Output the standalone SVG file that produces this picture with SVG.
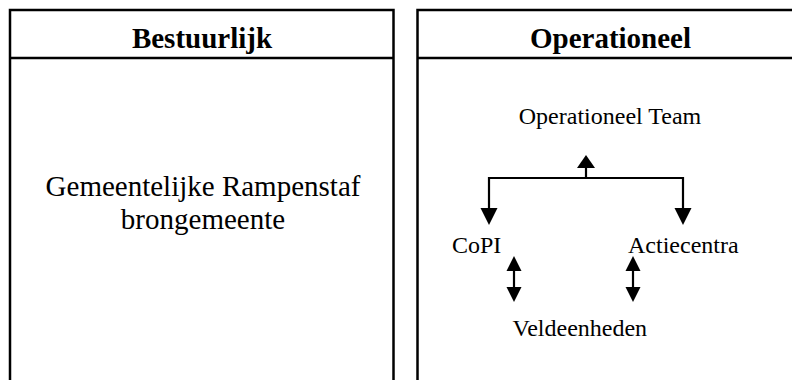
<svg xmlns="http://www.w3.org/2000/svg" width="792" height="380" viewBox="0 0 792 380">
<defs>
<style>
.box{fill:#fff;stroke:#000;stroke-width:2.5}
.div{stroke:#000;stroke-width:2.5}
.hd{font-family:"Liberation Serif",serif;font-weight:bold;font-size:29px;text-anchor:middle;fill:#000}
.big{font-family:"Liberation Serif",serif;font-size:29px;text-anchor:middle;fill:#000}
.lb{font-family:"Liberation Serif",serif;font-size:24px;fill:#000}
.cn{fill:none;stroke:#000;stroke-width:2.2}
</style>
<marker id="ah" viewBox="0 0 16 16" refX="0" refY="8" markerWidth="16" markerHeight="16" markerUnits="userSpaceOnUse" orient="auto-start-reverse">
<path d="M0,0 L16,8 L0,16 Z" fill="#000"/>
</marker>
</defs>
<g id="bestuurlijk">
<rect class="box" x="10" y="10" width="383.5" height="400"/>
<line class="div" x1="10" y1="58" x2="393.5" y2="58"/>
<text class="hd" x="202" y="48">Bestuurlijk</text>
<text class="big" x="203" y="196">Gemeentelijke Rampenstaf</text>
<text class="big" x="203" y="229">brongemeente</text>
</g>
<g id="operationeel">
<rect class="box" x="417.5" y="10" width="400" height="400"/>
<line class="div" x1="417.5" y1="58" x2="800" y2="58"/>
<text class="hd" x="610.5" y="48">Operationeel</text>
</g>
<g id="operationeel-team"><text class="lb" x="610" y="124" text-anchor="middle">Operationeel Team</text></g>
<g id="copi"><text class="lb" x="452" y="253">CoPI</text></g>
<g id="actiecentra"><text class="lb" x="628" y="253">Actiecentra</text></g>
<g id="veldeenheden"><text class="lb" x="512.5" y="336">Veldeenheden</text></g>
<g id="connectors">
<path class="cn" d="M489,210 V178 H683 V210"/>
<polygon points="480.5,208 497.5,208 489,225" fill="#000"/>
<polygon points="674.5,208 691.5,208 683,225" fill="#000"/>
<line class="cn" x1="586" y1="178" x2="586" y2="168"/>
<polygon points="577,168 595,168 586,155" fill="#000"/>
<line class="cn" x1="514" y1="270" x2="514" y2="288"/>
<polygon points="506.5,271 521.5,271 514,256" fill="#000"/>
<polygon points="506.5,287 521.5,287 514,302" fill="#000"/>
<line class="cn" x1="633" y1="270" x2="633" y2="288"/>
<polygon points="625.5,271 640.5,271 633,256" fill="#000"/>
<polygon points="625.5,287 640.5,287 633,302" fill="#000"/>
</g>
</svg>
